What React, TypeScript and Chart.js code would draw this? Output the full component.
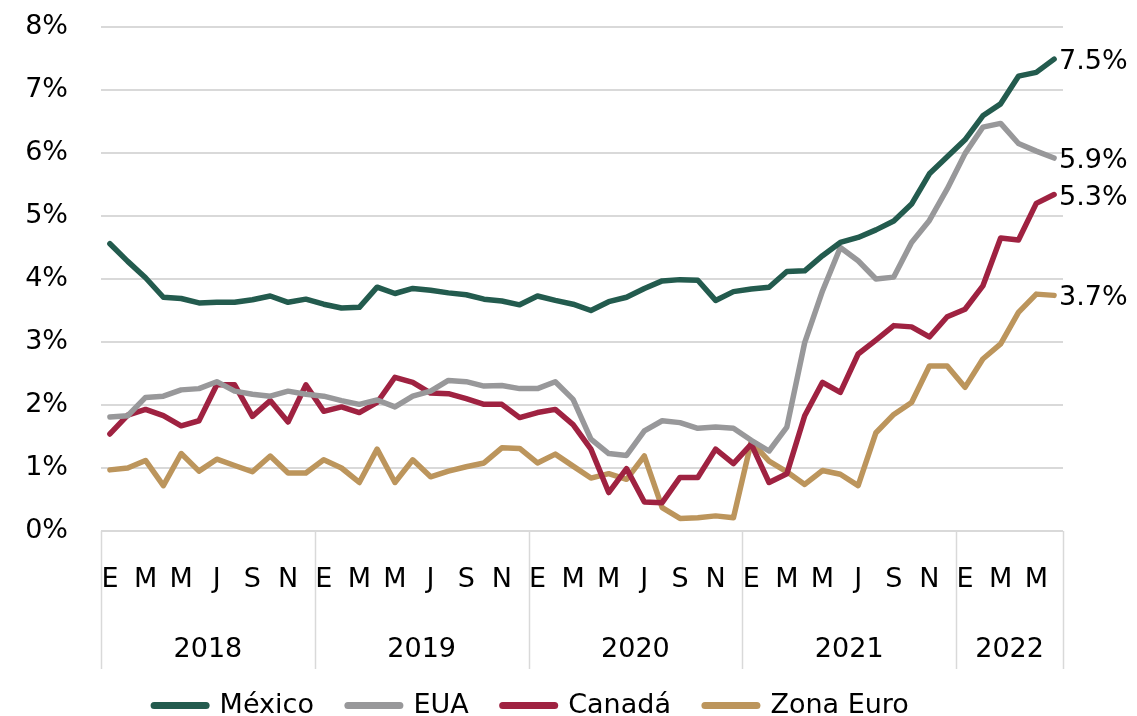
import { useEffect, useRef } from 'react';
import { Chart, registerables } from 'chart.js';

Chart.register(...registerables);

const FONT = "'DejaVu Sans', sans-serif";

const monthLetters = ['E', 'F', 'M', 'A', 'M', 'J', 'J', 'A', 'S', 'O', 'N', 'D'];
const years = ['2018', '2019', '2020', '2021', '2022'];
const monthsPerYear = [12, 12, 12, 12, 6];
const yTicks = [0, 1, 2, 3, 4, 5, 6, 7, 8];

const seriesNames = ['México', 'EUA', 'Canadá', 'Zona Euro'];
const seriesColors = ['#235B4E', '#98989A', '#9F2241', '#BC955C'];
const endLabels = ['7.5%', '5.9%', '5.3%', '3.7%'];

const mexico = [4.56, 4.28, 4.02, 3.71, 3.69, 3.62, 3.63, 3.63, 3.67, 3.73, 3.63, 3.68,
  3.60, 3.54, 3.55, 3.87, 3.77, 3.85, 3.82, 3.78, 3.75, 3.68, 3.65, 3.59,
  3.73, 3.66, 3.60, 3.50, 3.64, 3.71, 3.85, 3.97, 3.99, 3.98, 3.66, 3.80,
  3.84, 3.87, 4.12, 4.13, 4.37, 4.58, 4.66, 4.78, 4.92, 5.19, 5.67, 5.94,
  6.21, 6.59, 6.78, 7.22, 7.28, 7.49];
const eua = [1.81, 1.83, 2.12, 2.14, 2.24, 2.26, 2.37, 2.22, 2.17, 2.14, 2.22, 2.17,
  2.14, 2.07, 2.01, 2.08, 1.97, 2.14, 2.22, 2.39, 2.37, 2.30, 2.31, 2.26,
  2.26, 2.37, 2.09, 1.46, 1.23, 1.20, 1.59, 1.75, 1.72, 1.63, 1.65, 1.63,
  1.44, 1.27, 1.65, 2.99, 3.81, 4.50, 4.29, 4.00, 4.03, 4.58, 4.93, 5.43,
  5.99, 6.41, 6.47, 6.15, 6.03, 5.92];
const canada = [1.54, 1.84, 1.93, 1.83, 1.67, 1.75, 2.32, 2.32, 1.82, 2.07, 1.73, 2.32,
  1.90, 1.97, 1.88, 2.04, 2.44, 2.36, 2.19, 2.18, 2.10, 2.01, 2.01, 1.80,
  1.88, 1.93, 1.69, 1.30, 0.61, 0.99, 0.46, 0.45, 0.85, 0.85, 1.30, 1.07,
  1.38, 0.77, 0.91, 1.83, 2.36, 2.20, 2.81, 3.03, 3.26, 3.24, 3.08, 3.40,
  3.52, 3.89, 4.65, 4.62, 5.20, 5.34];
const zonaEuro = [0.97, 1.00, 1.12, 0.72, 1.23, 0.95, 1.14, 1.04, 0.94, 1.19, 0.92, 0.92,
  1.13, 1.00, 0.77, 1.30, 0.77, 1.13, 0.86, 0.95, 1.02, 1.08, 1.32, 1.31,
  1.08, 1.22, 1.03, 0.84, 0.91, 0.82, 1.19, 0.37, 0.20, 0.21, 0.24, 0.21,
  1.42, 1.11, 0.94, 0.74, 0.96, 0.90, 0.72, 1.56, 1.85, 2.04, 2.62, 2.62,
  2.28, 2.73, 2.97, 3.47, 3.76, 3.74];

export default function App() {
  const ref = useRef<HTMLCanvasElement>(null);

  useEffect(() => {
    document.body.style.margin = '0';
    const canvas = ref.current;
    if (!canvas) return;

    const labels: string[] = [];
    monthsPerYear.forEach((n) => {
      for (let m = 0; m < n; m++) labels.push(monthLetters[m]);
    });

    const seriesData = [mexico, eua, canada, zonaEuro];

    const extras = {
      id: 'extras',
      afterDraw(chart: any) {
        const { ctx, chartArea, scales } = chart;
        const x = scales.x;
        const step = x.getPixelForValue(1) - x.getPixelForValue(0);
        ctx.save();
        ctx.strokeStyle = '#d9d9d9';
        ctx.lineWidth = 1.5;
        const top = chartArea.bottom;
        const bottom = chartArea.bottom + 138;
        let start = 0;
        const bounds: number[] = [x.getPixelForValue(0) - step / 2];
        monthsPerYear.forEach((n) => {
          start += n;
          bounds.push(x.getPixelForValue(start - 1) + step / 2);
        });
        bounds.forEach((bx) => {
          ctx.beginPath();
          ctx.moveTo(Math.round(bx) + 0.5, top);
          ctx.lineTo(Math.round(bx) + 0.5, bottom);
          ctx.stroke();
        });
        ctx.fillStyle = '#000';
        ctx.font = `27px ${FONT}`;
        ctx.textAlign = 'center';
        ctx.textBaseline = 'middle';
        years.forEach((yr, i) => {
          ctx.fillText(yr, (bounds[i] + bounds[i + 1]) / 2, chartArea.bottom + 119);
        });
        ctx.textAlign = 'left';
        ctx.font = `27px ${FONT}`;
        chart.data.datasets.forEach((ds: any, i: number) => {
          const meta = chart.getDatasetMeta(i);
          const pt = meta.data[meta.data.length - 1];
          if (!pt) return;
          ctx.fillText(endLabels[i], pt.x + 5, pt.y + 3);
        });
        ctx.restore();
      },
    };

    const chart = new Chart(canvas, {
      type: 'line',
      data: {
        labels,
        datasets: seriesNames.map((name, i) => ({
          label: name,
          data: seriesData[i],
          borderColor: seriesColors[i],
          backgroundColor: seriesColors[i],
          borderWidth: 5.5,
          pointRadius: 0,
          pointHoverRadius: 0,
          tension: 0,
          borderJoinStyle: 'round' as const,
          borderCapStyle: 'round' as const,
          fill: false,
        })),
      },
      options: {
        animation: false,
        responsive: false,
        maintainAspectRatio: false,
        layout: { padding: { top: 27, right: 74, bottom: -13, left: 0 } },
        scales: {
          x: {
            type: 'category',
            offset: true,
            grid: { display: false, drawTicks: false },
            border: { display: false },
            ticks: {
              autoSkip: false,
              maxRotation: 0,
              minRotation: 0,
              padding: 33,
              color: '#000',
              font: { family: FONT, size: 27 },
              callback: (_v: any, idx: number) => (idx % 12) % 2 === 0 ? labels[idx] : '',
            },
            afterFit: (s: any) => {
              s.height = 127;
              s.paddingLeft = 0;
              s.paddingRight = 0;
            },
          },
          y: {
            min: 0,
            max: 8,
            afterBuildTicks: (s: any) => { s.ticks = yTicks.map((v) => ({ value: v })); },
            grid: { color: '#d9d9d9', lineWidth: 2, drawTicks: false },
            border: { display: false },
            ticks: {
              padding: 33,
              color: '#000',
              font: { family: FONT, size: 27 },
              callback: (v: any) => `${v}%`,
            },
            afterFit: (s: any) => {
              s.width = 101;
              s.paddingTop = 0;
              s.paddingBottom = 0;
            },
          },
        },
        plugins: {
          tooltip: { enabled: false },
          legend: {
            position: 'bottom',
            labels: {
              usePointStyle: true,
              pointStyle: 'line',
              pointStyleWidth: 52,
              padding: 34,
              color: '#000',
              font: { family: FONT, size: 27 },
              generateLabels: (c: any) =>
                Chart.defaults.plugins.legend.labels.generateLabels(c).map((l: any) => ({
                  ...l,
                  lineWidth: 7,
                  lineCap: 'round',
                })),
            },
          },
        },
      },
      plugins: [extras],
    } as any);

    return () => chart.destroy();
  }, []);

  return (
    <div style={{ width: 1137, height: 716 }}>
      <canvas ref={ref} width={1137} height={716} style={{ display: 'block' }} />
    </div>
  );
}
